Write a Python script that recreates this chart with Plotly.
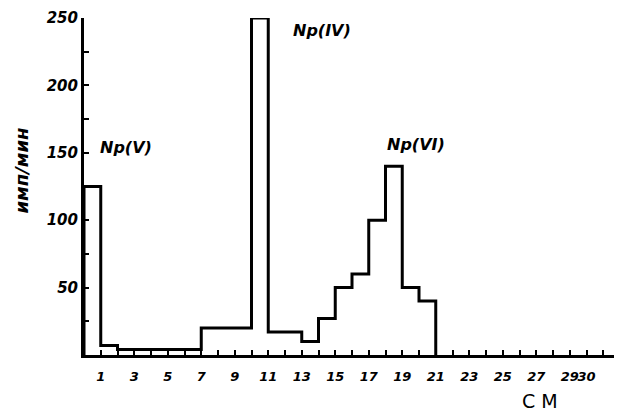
import plotly.graph_objects as go

# Bin left edges (cm) and counts (имп/мин)
bin_edges = [0, 1, 2, 3, 4, 5, 6, 7, 8, 9, 10, 11, 12, 13, 14, 15, 16, 17, 18, 19, 20, 21]
counts = [125, 7, 4, 4, 4, 4, 4, 20, 20, 20, 250, 17, 17, 10, 27, 50, 60, 100, 140, 50, 40]

x_tick_vals = [1, 3, 5, 7, 9, 11, 13, 15, 17, 19, 21, 23, 25, 27, 29, 30]
x_tick_text = ["1", "3", "5", "7", "9", "11", "13", "15", "17", "19", "21", "23", "25", "27", "29", "30"]
y_tick_vals = [50, 100, 150, 200, 250]

peak_labels = ["Np(V)", "Np(IV)", "Np(VI)"]
peak_x = [2.5, 14.2, 19.8]
peak_y = [154, 241, 156]

# Step outline: start at baseline, end back at baseline
xs = [bin_edges[0]] + bin_edges
ys = [0] + counts + [0]

hand = dict(family="DejaVu Sans", color="black", weight="bold", style="italic")

fig = go.Figure()
fig.add_trace(go.Scatter(
    x=xs, y=ys, mode="lines", line=dict(color="black", width=3, shape="hv"),
    cliponaxis=False, hoverinfo="skip", showlegend=False,
))

for t, px, py in zip(peak_labels, peak_x, peak_y):
    fig.add_annotation(x=px, y=py, text=t, showarrow=False,
                       font=dict(hand, size=16))

fig.add_annotation(xref="paper", x=-0.117, xanchor="center", y=137, yanchor="middle",
                   text="имп/мин", textangle=-90,
                   showarrow=False, font=dict(hand, size=18))
fig.add_annotation(x=27.2, xanchor="center", yref="paper", y=-0.137, yanchor="middle",
                   text="С М", showarrow=False,
                   font=dict(family="DejaVu Sans", color="black", size=19))

fig.update_layout(
    width=614, height=404,
    margin=dict(l=76, r=2, t=10, b=57, autoexpand=False),
    plot_bgcolor="white", paper_bgcolor="white",
    xaxis=dict(
        range=[0, 32], showgrid=False, zeroline=False, automargin=False,
        showline=True, linecolor="black", linewidth=3,
        tickvals=x_tick_vals, ticktext=x_tick_text, tickangle=0,
        ticks="inside", ticklen=5, tickwidth=2, tickcolor="black",
        tickfont=dict(hand, size=13), ticklabelstandoff=7,
        minor=dict(dtick=1, tick0=0, ticks="inside", ticklen=5, tickwidth=2, tickcolor="black"),
    ),
    yaxis=dict(
        range=[0, 250], showgrid=False, zeroline=False, automargin=False,
        showline=True, linecolor="black", linewidth=3,
        tickvals=y_tick_vals,
        ticks="inside", ticklen=5, tickwidth=2, tickcolor="black",
        tickfont=dict(hand, size=15),
        minor=dict(dtick=25, tick0=0, ticks="inside", ticklen=5, tickwidth=2, tickcolor="black"),
    ),
)

fig.write_html("out.html")
